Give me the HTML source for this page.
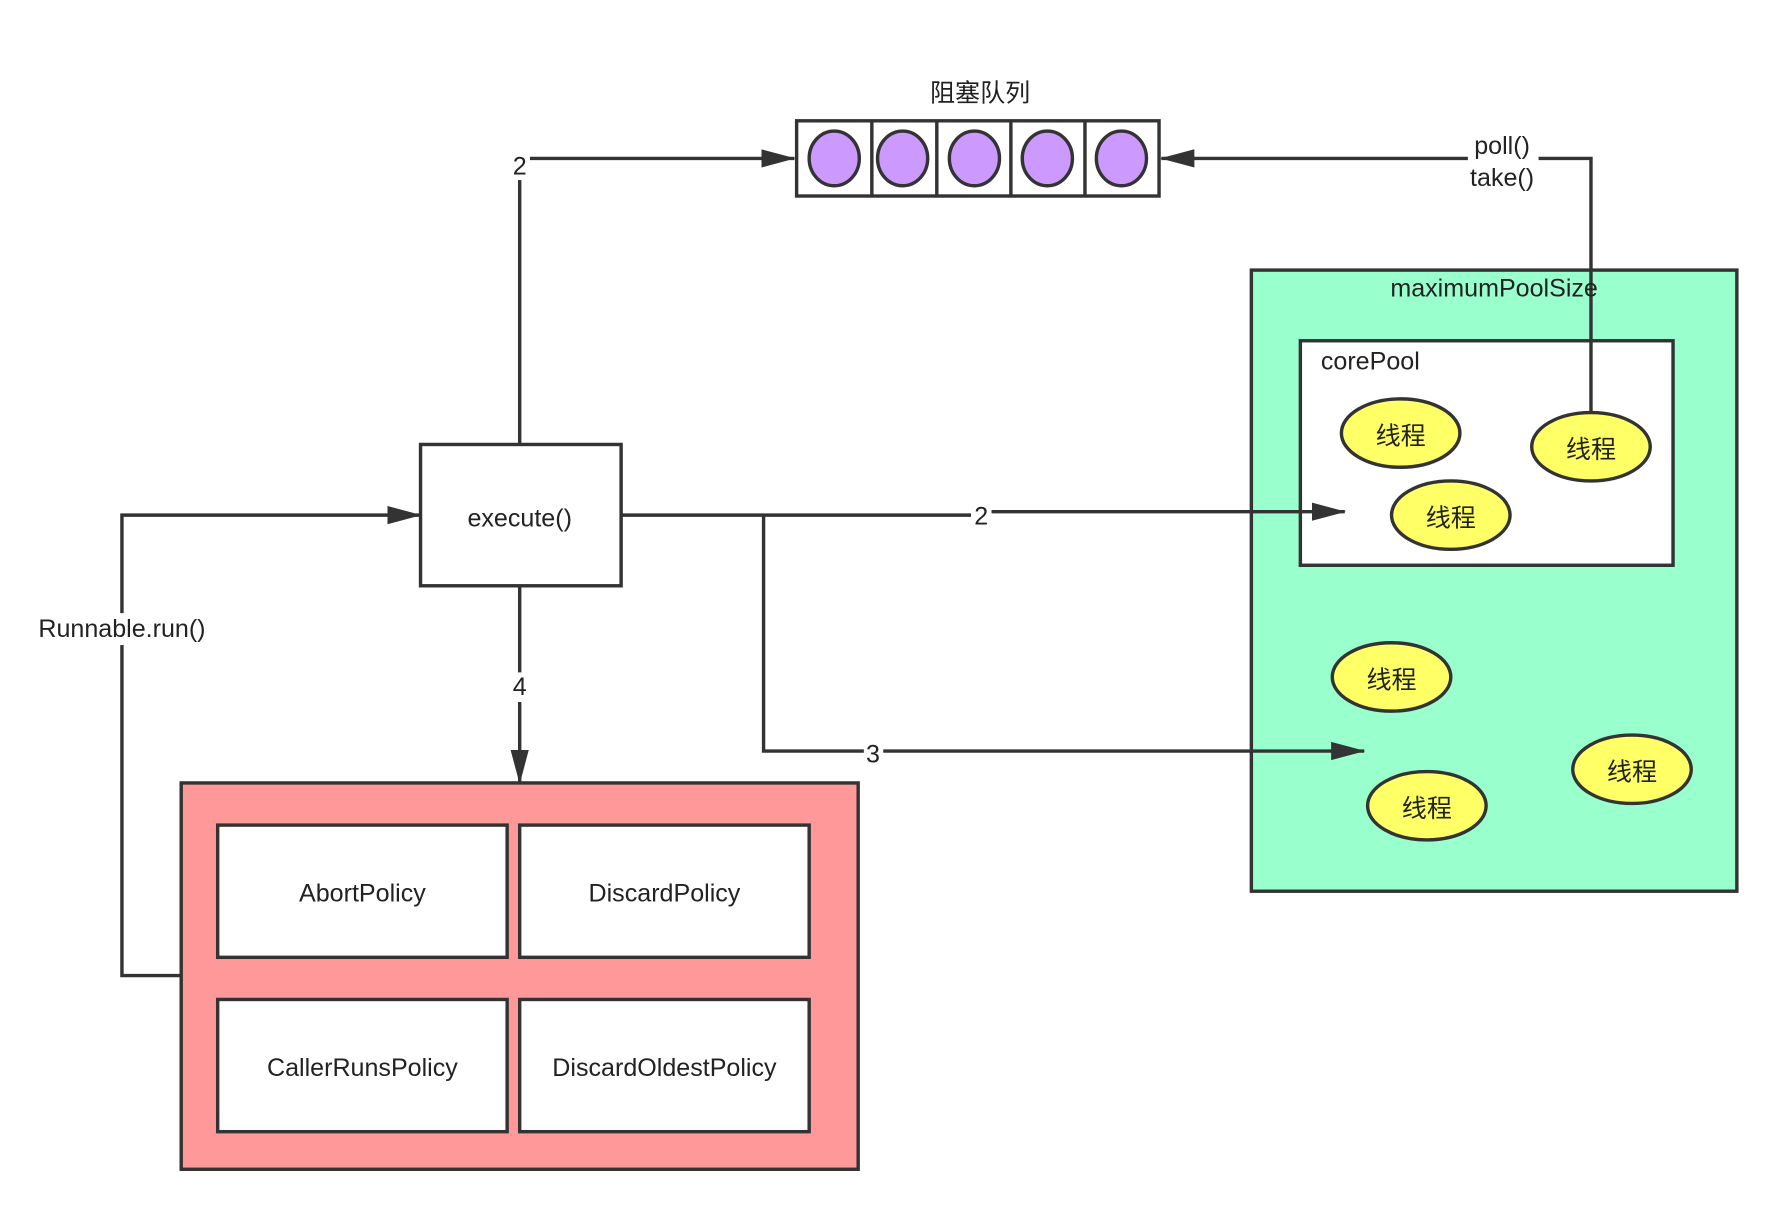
<!DOCTYPE html>
<html><head><style>html,body{margin:0;padding:0;background:#fff}svg{display:block}text{font-family:"Liberation Sans","Noto Sans CJK SC",sans-serif;fill:#222}</style></head><body>
<svg width="1787" height="1220" viewBox="0 0 1568 1070.5" preserveAspectRatio="none" xmlns="http://www.w3.org/2000/svg">
<defs><marker id="a" markerWidth="10" markerHeight="10" refX="9" refY="5" orient="auto" markerUnits="userSpaceOnUse" viewBox="0 0 10 10"><path d="M0,0 L10,5 L0,10 Z" fill="#333"/></marker>
<marker id="b" markerWidth="30" markerHeight="20" refX="29" refY="10" orient="auto" markerUnits="userSpaceOnUse"><path d="M0,2 L30,10 L0,18 Z" fill="#333"/></marker></defs>
<g stroke="#333" stroke-width="3" fill="none">
<rect x="1098" y="237" width="426" height="545" fill="#99ffcc"/>
<rect x="1141" y="299" width="327" height="197" fill="#fff"/>
<rect x="159" y="687" width="594" height="339" fill="#ff9999"/>
<rect x="191" y="724" width="254" height="116" fill="#fff"/>
<rect x="456" y="724" width="254" height="116" fill="#fff"/>
<rect x="191" y="877" width="254" height="116" fill="#fff"/>
<rect x="456" y="877" width="254" height="116" fill="#fff"/>
<rect x="369" y="390" width="176" height="124" fill="#fff"/>
<rect x="699" y="106" width="318" height="66" fill="#fff"/>
<path d="M765,106V172M822,106V172M887,106V172M952,106V172"/>
<g fill="#cc99ff"><ellipse cx="732" cy="139" rx="22" ry="24"/><ellipse cx="792" cy="139" rx="22" ry="24"/><ellipse cx="855" cy="139" rx="22" ry="24"/><ellipse cx="919" cy="139" rx="22" ry="24"/><ellipse cx="984" cy="139" rx="22" ry="24"/></g>
<g fill="#ffff66"><ellipse cx="1229" cy="380" rx="52" ry="30"/><ellipse cx="1396" cy="392" rx="52" ry="30"/><ellipse cx="1273" cy="452" rx="52" ry="30"/><ellipse cx="1221" cy="594" rx="52" ry="30"/><ellipse cx="1432" cy="675" rx="52" ry="30"/><ellipse cx="1252" cy="707" rx="52" ry="30"/></g>
<path d="M456,390V139H697" marker-end="url(#b)"/>
<path d="M1396,362V139H1019" marker-end="url(#b)"/>
<path d="M545,452H860V449H1180" marker-end="url(#b)"/>
<path d="M670,452V659H1197" marker-end="url(#b)"/>
<path d="M456,514V687" marker-end="url(#b)"/>
<path d="M159,856H107V452H369" marker-end="url(#b)"/>
</g>
<g font-size="22" text-anchor="middle" dominant-baseline="central">
<text x="860" y="82">阻塞队列</text>
<rect x="448" y="134" width="17" height="24" fill="#fff"/><text x="456" y="146">2</text>
<rect x="1288" y="116" width="62" height="54" fill="#fff"/><text x="1318" y="128">poll()</text><text x="1318" y="156">take()</text>
<text x="1311" y="253">maximumPoolSize</text>
<text x="1159" y="317" text-anchor="start">corePool</text>
<text x="1229" y="383">线程</text><text x="1396" y="395">线程</text><text x="1273" y="455">线程</text><text x="1221" y="597">线程</text><text x="1432" y="678">线程</text><text x="1252" y="710">线程</text>
<text x="456" y="455">execute()</text>
<rect x="852" y="440" width="18" height="24" fill="#fff"/><text x="861" y="453">2</text>
<rect x="758" y="649" width="17" height="24" fill="#fff"/><text x="766" y="662">3</text>
<rect x="447" y="590" width="18" height="26" fill="#fff"/><text x="456" y="603">4</text>
<rect x="26" y="538" width="162" height="28" fill="#fff"/><text x="107" y="552">Runnable.run()</text>
<text x="318" y="784">AbortPolicy</text><text x="583" y="784">DiscardPolicy</text>
<text x="318" y="937">CallerRunsPolicy</text><text x="583" y="937">DiscardOldestPolicy</text>
</g>
</svg>
</body></html>
